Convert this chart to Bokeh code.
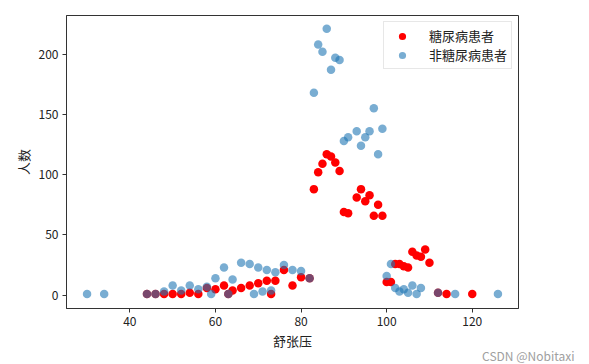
from bokeh.plotting import figure
from bokeh.models import FixedTicker, Legend, LegendItem, Range1d, Title
from bokeh.embed import file_html
from bokeh.resources import INLINE

# 糖尿病患者 (diabetic)
red_x = [44, 46, 48, 50, 52, 54, 56, 58, 60, 62, 63, 64, 66, 68, 70, 72, 73, 74, 76, 78, 80, 82,
         83, 84, 85, 86, 87, 88, 89, 90, 91, 93, 94, 95, 96, 97, 98, 99,
         100, 101, 102, 103, 104, 105, 106, 107, 108, 109, 110, 112, 114, 120]
red_y = [1, 1, 1, 1, 1, 2, 1, 6, 5, 8, 1, 4, 6, 8, 10, 12, 1, 12, 21, 8, 15, 14,
         88, 102, 109, 117, 115, 110, 103, 69, 68, 81, 88, 78, 83, 66, 75, 66,
         11, 11, 26, 26, 24, 23, 36, 33, 32, 38, 27, 2, 1, 1]

# 非糖尿病患者 (non-diabetic)
blue_x = [30, 34, 44, 46, 48, 50, 52, 54, 56, 58, 59, 60, 62, 63, 64, 66, 68, 69, 70, 71, 72, 73, 74,
          76, 78, 80, 82, 83, 84, 85, 86, 87, 88, 89, 90, 91, 93, 94, 95, 96, 97, 98, 99,
          100, 101, 102, 103, 104, 105, 106, 107, 108, 112, 116, 126]
blue_y = [1, 1, 1, 1, 3, 8, 4, 8, 5, 7, 1, 14, 23, 1, 13, 27, 26, 1, 23, 3, 21, 4, 19,
          25, 21, 20, 14, 168, 208, 202, 221, 187, 197, 195, 128, 131, 136, 124, 131, 136, 155, 117, 138,
          16, 26, 6, 3, 5, 2, 8, 1, 6, 2, 1, 1]

x_ticks = [40, 60, 80, 100, 120]
y_ticks = [0, 50, 100, 150, 200]

FONT = "Noto Sans CJK SC"

p = figure(frame_width=452, frame_height=293, output_backend="svg", toolbar_location=None,
           x_range=Range1d(25.2, 130.8), y_range=Range1d(-11, 232),
           min_border_left=66, min_border_right=71, min_border_top=15, min_border_bottom=56)
p.grid.visible = False
p.outline_line_color = "#333333"
p.outline_line_width = 1

r1 = p.scatter(red_x, red_y, size=8.5, color="red", line_color=None)
r2 = p.scatter(blue_x, blue_y, size=8.5, color="#1f77b4", alpha=0.6, line_color=None)

for ax in (p.xaxis[0], p.yaxis[0]):
    ax.axis_line_color = "#333333"
    ax.major_tick_line_color = "#333333"
    ax.major_tick_out = 4
    ax.major_tick_in = 0
    ax.minor_tick_line_color = None
    ax.major_label_text_font = FONT
    ax.major_label_text_font_size = "12px"
    ax.major_label_text_color = "#222222"
    ax.axis_label_text_font = FONT
    ax.axis_label_text_font_size = "13px"
    ax.axis_label_text_font_style = "normal"
    ax.axis_label_text_color = "#222222"
    ax.major_label_standoff = 4

p.xaxis.ticker = FixedTicker(ticks=x_ticks)
p.yaxis.ticker = FixedTicker(ticks=y_ticks)
p.xaxis.axis_label = "舒张压"
p.yaxis.axis_label = "人数"
p.xaxis.axis_label_standoff = 2
p.yaxis.axis_label_standoff = 3

legend = Legend(items=[LegendItem(label="糖尿病患者", renderers=[r1]),
                       LegendItem(label="非糖尿病患者", renderers=[r2])],
                location="top_right", margin=6, padding=4, spacing=0,
                glyph_width=28, glyph_height=18, label_height=18, label_standoff=13,
                label_text_font=FONT, label_text_font_size="13px", label_text_color="#222222",
                border_line_color="#d0d0d0", border_line_width=1,
                background_fill_alpha=0.8)
p.add_layout(legend)

wm = Title(text="CSDN @Nobitaxi", align="right", offset=-56, standoff=-23,
           text_font=FONT, text_font_size="12px", text_font_style="normal",
           text_color="#a0a0a0")
p.add_layout(wm, "below")

open("out.html", "w").write(file_html(p, INLINE))
